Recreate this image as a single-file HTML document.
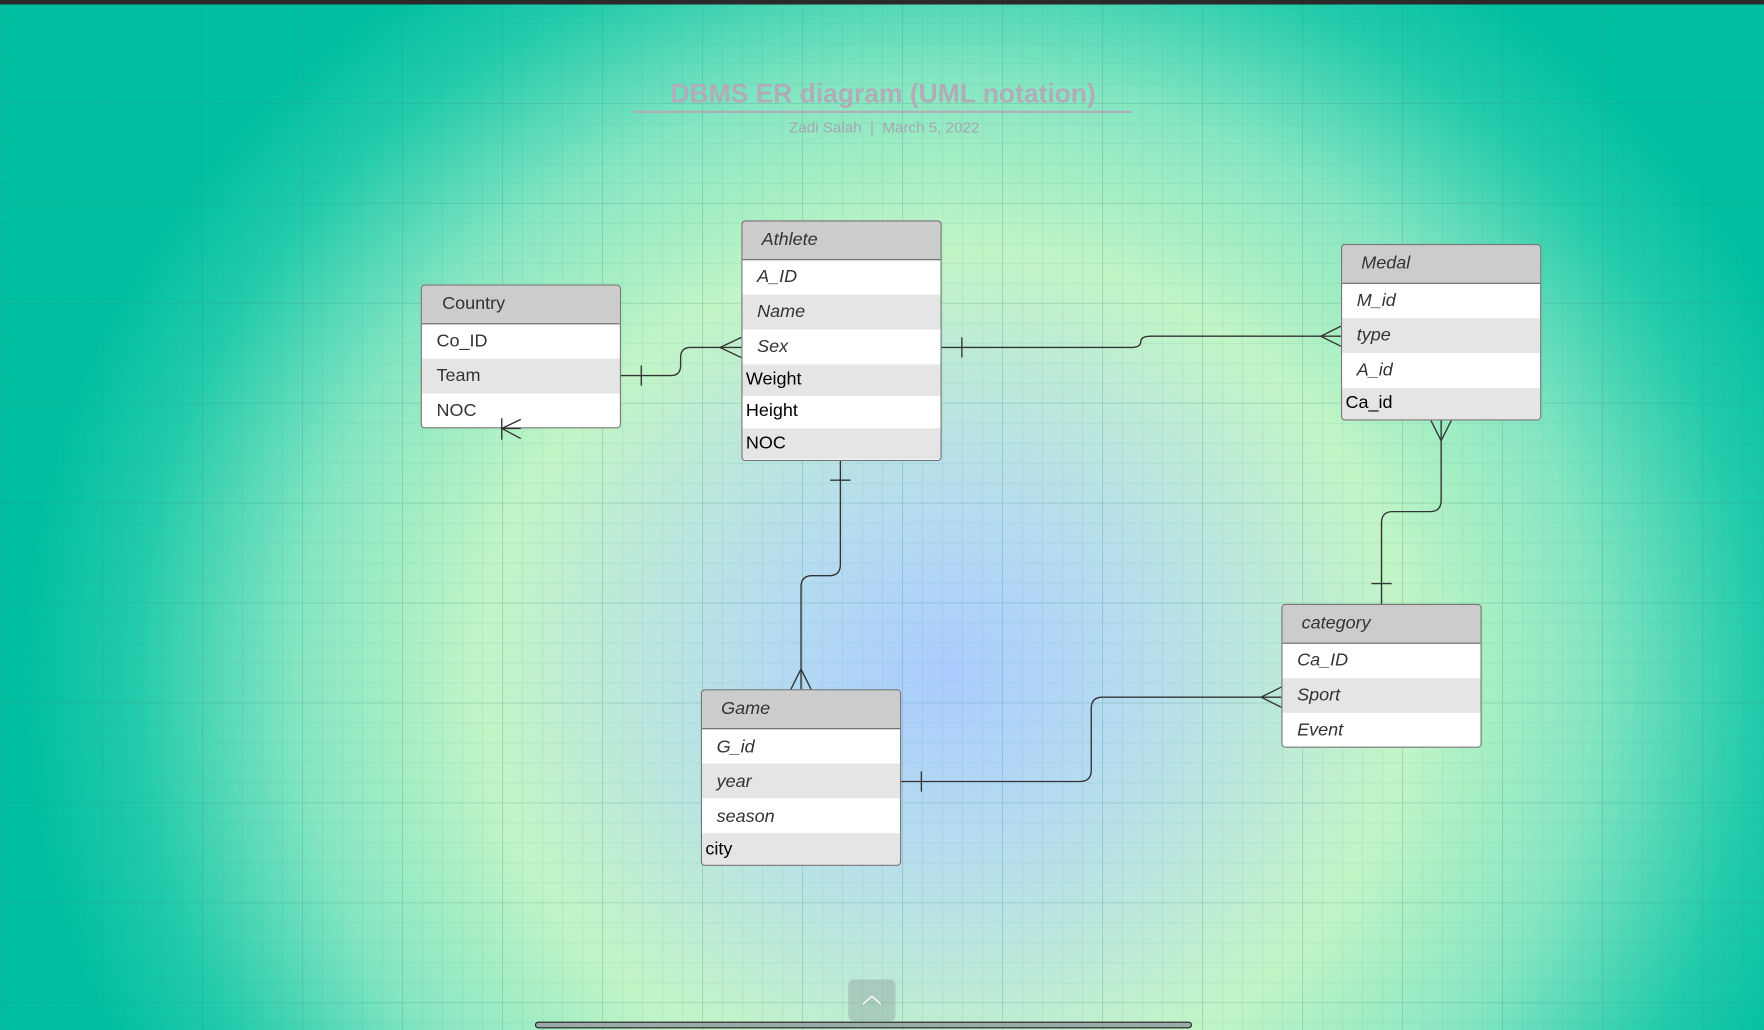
<!DOCTYPE html>
<html><head><meta charset="utf-8"><style>
html,body{margin:0;padding:0;width:1764px;height:1030px;overflow:hidden;background:#00c0a0}
svg{display:block}
text{font-family:"Liberation Sans",sans-serif}
</style></head><body>
<svg width="1764" height="1030" viewBox="0 0 1568 916" preserveAspectRatio="none" xmlns="http://www.w3.org/2000/svg">
<defs>
<radialGradient id="bg" cx="840" cy="600" r="820" gradientUnits="userSpaceOnUse" gradientTransform="translate(840 600) scale(1 0.92) translate(-840 -600)">
<stop offset="0" stop-color="#aaccff"/>
<stop offset="0.2" stop-color="#b6dcef"/>
<stop offset="0.5" stop-color="#c2f5c6"/>
<stop offset="0.7" stop-color="#86e6c2"/>
<stop offset="0.88" stop-color="#22cbab"/>
<stop offset="1" stop-color="#00bfa0"/>
</radialGradient>
<pattern id="minor" x="1.8" y="2.7" width="17.78" height="17.78" patternUnits="userSpaceOnUse">
<path d="M0 0H17.78M0 0V17.78" stroke="#3a8a80" stroke-opacity="0.18" stroke-width="1" fill="none"/>
</pattern>
<pattern id="major" x="1.8" y="2.7" width="88.89" height="88.89" patternUnits="userSpaceOnUse">
<path d="M0 0H88.89M0 0V88.89" stroke="#3a8a80" stroke-opacity="0.3" stroke-width="1" fill="none"/>
</pattern>
</defs>
<rect width="1568" height="916" fill="url(#bg)"/>
<rect width="1568" height="916" fill="url(#minor)"/>
<rect width="1568" height="916" fill="url(#major)"/>
<rect width="1568" height="4" fill="#2a2a2a"/>

<text x="785" y="91" text-anchor="middle" font-size="23.5" font-weight="bold" fill="#b0acb8">DBMS ER diagram (UML notation)</text>
<line x1="563" y1="99.5" x2="1006" y2="99.5" stroke="#b0acb8" stroke-width="2"/>
<text x="786" y="118" text-anchor="middle" font-size="13.5" fill="#a8a4b2" xml:space="preserve">Zadi Salah  |  March 5, 2022</text>

<g fill="none" stroke="#333" stroke-width="1.2">
<path d="M552 334H596Q605 334 605 325V318Q605 309 614 309H659"/>
<line x1="570" y1="325" x2="570" y2="343"/>
<path d="M659 300L640 309L659 318"/>
<path d="M836 309H1005Q1014 309 1014 304Q1014 299 1023 299H1192"/>
<line x1="855" y1="300" x2="855" y2="318"/>
<path d="M1192 290L1174 299L1192 308"/>
<path d="M747 409V502Q747 512 737 512H722Q712 512 712 522V613"/>
<line x1="738" y1="427" x2="756" y2="427"/>
<path d="M703 613L712 595L721 613"/>
<path d="M1281 374V445Q1281 455 1271 455H1238Q1228 455 1228 465V537"/>
<path d="M1272 374L1281 392L1290 374"/>
<line x1="1219" y1="519" x2="1237" y2="519"/>
<path d="M800 695H960Q970 695 970 685V630Q970 620 980 620H1139"/>
<line x1="819" y1="686" x2="819" y2="704"/>
<path d="M1139 611L1121 620L1139 629"/>
</g>

<!-- Country -->
<g>
<rect x="374.5" y="253.5" width="177" height="127" rx="3" fill="#fff"/>
<rect x="375" y="254" width="176" height="34" rx="2" fill="#cccccc"/>
<rect x="375" y="319" width="176" height="31" fill="#e5e5e5"/>
<line x1="375" y1="288" x2="551" y2="288" stroke="#666"/>
<rect x="374.5" y="253.5" width="177" height="127" rx="3" fill="none" stroke="#777"/>
<text x="393" y="275" font-size="16" fill="#333">Country</text>
<text x="388" y="308" font-size="16" fill="#333">Co_ID</text>
<text x="388" y="339" font-size="16" fill="#333">Team</text>
<text x="388" y="370" font-size="16" fill="#333">NOC</text>
</g>
<path d="M463 373L446 381L463 390M446 372V391M446 381H463" fill="none" stroke="#333" stroke-width="1.2"/>

<!-- Athlete -->
<g>
<rect x="659.5" y="196.5" width="177" height="213" rx="3" fill="#fff"/>
<rect x="660" y="197" width="176" height="34" rx="2" fill="#cccccc"/>
<rect x="660" y="262" width="176" height="31" fill="#e5e5e5"/>
<rect x="660" y="324" width="176" height="28" fill="#e5e5e5"/>
<rect x="660" y="381" width="176" height="27" fill="#e5e5e5"/>
<line x1="660" y1="231" x2="836" y2="231" stroke="#666"/>
<rect x="659.5" y="196.5" width="177" height="213" rx="3" fill="none" stroke="#777"/>
<text x="677" y="218" font-size="16" font-style="italic" fill="#333">Athlete</text>
<text x="673" y="251" font-size="16" font-style="italic" fill="#333">A_ID</text>
<text x="673" y="282" font-size="16" font-style="italic" fill="#333">Name</text>
<text x="673" y="313" font-size="16" font-style="italic" fill="#333">Sex</text>
<text x="663" y="342" font-size="16" fill="#000">Weight</text>
<text x="663" y="370" font-size="16" fill="#000">Height</text>
<text x="663" y="399" font-size="16" fill="#000">NOC</text>
</g>

<!-- Medal -->
<g>
<rect x="1192.5" y="217.5" width="177" height="156" rx="3" fill="#fff"/>
<rect x="1193" y="218" width="176" height="34" rx="2" fill="#cccccc"/>
<rect x="1193" y="283" width="176" height="31" fill="#e5e5e5"/>
<rect x="1193" y="345" width="176" height="28" fill="#e5e5e5"/>
<line x1="1193" y1="252" x2="1369" y2="252" stroke="#666"/>
<rect x="1192.5" y="217.5" width="177" height="156" rx="3" fill="none" stroke="#777"/>
<text x="1210" y="239" font-size="16" font-style="italic" fill="#333">Medal</text>
<text x="1206" y="272" font-size="16" font-style="italic" fill="#333">M_id</text>
<text x="1206" y="303" font-size="16" font-style="italic" fill="#333">type</text>
<text x="1206" y="334" font-size="16" font-style="italic" fill="#333">A_id</text>
<text x="1196" y="363" font-size="16" fill="#000">Ca_id</text>
</g>

<!-- category -->
<g>
<rect x="1139.5" y="537.5" width="177" height="127" rx="3" fill="#fff"/>
<rect x="1140" y="538" width="176" height="34" rx="2" fill="#cccccc"/>
<rect x="1140" y="603" width="176" height="31" fill="#e5e5e5"/>
<line x1="1140" y1="572" x2="1316" y2="572" stroke="#666"/>
<rect x="1139.5" y="537.5" width="177" height="127" rx="3" fill="none" stroke="#777"/>
<text x="1157" y="559" font-size="16" font-style="italic" fill="#333">category</text>
<text x="1153" y="592" font-size="16" font-style="italic" fill="#333">Ca_ID</text>
<text x="1153" y="623" font-size="16" font-style="italic" fill="#333">Sport</text>
<text x="1153" y="654" font-size="16" font-style="italic" fill="#333">Event</text>
</g>

<!-- Game -->
<g>
<rect x="623.5" y="613.5" width="177" height="156" rx="3" fill="#fff"/>
<rect x="624" y="614" width="176" height="34" rx="2" fill="#cccccc"/>
<rect x="624" y="679" width="176" height="31" fill="#e5e5e5"/>
<rect x="624" y="741" width="176" height="28" fill="#e5e5e5"/>
<line x1="624" y1="648" x2="800" y2="648" stroke="#666"/>
<rect x="623.5" y="613.5" width="177" height="156" rx="3" fill="none" stroke="#777"/>
<text x="641" y="635" font-size="16" font-style="italic" fill="#333">Game</text>
<text x="637" y="669" font-size="16" font-style="italic" fill="#333">G_id</text>
<text x="637" y="700" font-size="16" font-style="italic" fill="#333">year</text>
<text x="637" y="731" font-size="16" font-style="italic" fill="#333">season</text>
<text x="627" y="760" font-size="16" fill="#000">city</text>
</g>

<rect x="754" y="871" width="42" height="37" rx="5" fill="#8a9a98" fill-opacity="0.4"/>
<path d="M767 893L775 886L783 893" fill="none" stroke="#fff" stroke-width="1.2"/>
<rect x="476" y="909" width="583" height="5" rx="2.5" fill="#9aaaa6" stroke="#222" stroke-width="1"/>
</svg>
</body></html>
